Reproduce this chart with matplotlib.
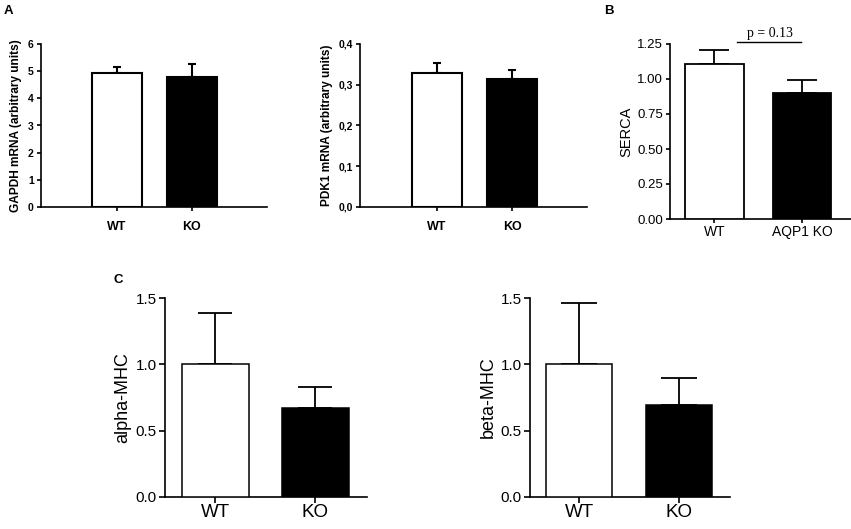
import matplotlib
matplotlib.use("Agg")
import matplotlib.pyplot as plt

W, H = 851, 529
groups = ["WT", "KO"]
fills = ["white", "black"]

gapdh_mean = [4.92, 4.80]
gapdh_err = [0.22, 0.45]
pdk1_mean = [0.330, 0.315]
pdk1_err = [0.024, 0.020]
serca_groups = ["WT", "AQP1 KO"]
serca_mean = [1.11, 0.90]
serca_err = [0.095, 0.095]
alpha_mean = [1.00, 0.67]
alpha_err = [0.39, 0.16]
beta_mean = [1.00, 0.69]
beta_err = [0.46, 0.21]

gapdh_ticks = [0, 1, 2, 3, 4, 5, 6]
pdk1_ticks = [0.0, 0.1, 0.2, 0.3, 0.4]
pdk1_ticklabels = ["0,0", "0,1", "0,2", "0,3", "0,4"]
serca_ticks = [0.0, 0.25, 0.5, 0.75, 1.0, 1.25]
serca_ticklabels = ["0.00", "0.25", "0.50", "0.75", "1.00", "1.25"]
mhc_ticks = [0.0, 0.5, 1.0, 1.5]
mhc_ticklabels = ["0.0", "0.5", "1.0", "1.5"]

fig = plt.figure(figsize=(W / 100, H / 100), dpi=100)
plt.rcParams['font.family'] = ['Liberation Sans', 'DejaVu Sans']


def mkax(l, r, t, b):
    return fig.add_axes([l / W, 1 - b / H, (r - l) / W, (b - t) / H])


def style(ax, xlim, ylim, lw, ticklen, tickfs, bold):
    ax.set_xlim(*xlim)
    ax.set_ylim(*ylim)
    for s in ["top", "right"]:
        ax.spines[s].set_visible(False)
    for s in ["left", "bottom"]:
        ax.spines[s].set_linewidth(lw)
    ax.tick_params(direction="out", length=ticklen, width=lw, labelsize=tickfs, pad=2)
    for lab in ax.get_xticklabels() + ax.get_yticklabels():
        lab.set_fontweight("bold" if bold else "normal")
    ax.patch.set_alpha(0)


def bars(ax, means, errs, width, lw, capw, elw):
    x = list(range(len(means)))
    ax.bar(x, means, width=width, color=fills, edgecolor="black", linewidth=lw, zorder=3)
    ax.errorbar(x, means, yerr=[[0] * len(errs), errs], fmt="none", ecolor="black",
                elinewidth=elw, capsize=capw, capthick=elw, zorder=2)
    return x


# Panel A1 GAPDH
ax1 = mkax(40.7, 267, 44, 207)
x = bars(ax1, gapdh_mean, gapdh_err, 0.667, 1.5, 3, 1.5)
ax1.set_xticks(x)
ax1.set_xticklabels(groups)
ax1.set_yticks(gapdh_ticks)
ax1.set_ylabel("GAPDH mRNA (arbitrary units)", fontsize=8.6, fontweight="bold", labelpad=4)
style(ax1, (-1.017, 2.0), (0, 6), 1.2, 3, 7.5, True)
ax1.tick_params(axis="x", labelsize=9, pad=7)

# Panel A2 PDK1
ax2 = mkax(360, 587, 44, 207)
x = bars(ax2, pdk1_mean, pdk1_err, 0.667, 1.5, 3, 1.5)
ax2.set_xticks(x)
ax2.set_xticklabels(groups)
ax2.set_yticks(pdk1_ticks)
ax2.set_yticklabels(pdk1_ticklabels)
ax2.set_ylabel("PDK1 mRNA (arbitrary units)", fontsize=8.6, fontweight="bold", labelpad=4)
style(ax2, (-1.027, 2.0), (0, 0.4), 1.2, 3, 7.5, True)
ax2.tick_params(axis="x", labelsize=9, pad=7)

# Panel B SERCA
ax3 = mkax(670, 851, 44, 219)
x = bars(ax3, serca_mean, serca_err, 0.67, 1.3, 10.5, 1.3)
ax3.set_xticks(x)
ax3.set_xticklabels(serca_groups)
ax3.set_yticks(serca_ticks)
ax3.set_yticklabels(serca_ticklabels)
ax3.set_ylabel("SERCA", fontsize=10.5, labelpad=3)
style(ax3, (-0.506, 1.56), (0, 1.25), 1.2, 3, 9.5, False)
ax3.tick_params(axis="x", labelsize=10, pad=1)
ax3.plot([0.256, 0.994], [1.264, 1.264], color="black", lw=1.0, clip_on=False)
ax3.text(0.63, 1.278, "p = 0.13", ha="center", va="bottom", fontsize=10,
         family=["Liberation Serif", "DejaVu Serif"])

# Panel C1 alpha-MHC
ax4 = mkax(165, 367, 298, 497)
x = bars(ax4, alpha_mean, alpha_err, 0.67, 1.1, 12.2, 1.3)
ax4.set_xticks(x)
ax4.set_xticklabels(groups)
ax4.set_yticks(mhc_ticks)
ax4.set_yticklabels(mhc_ticklabels)
ax4.set_ylabel("alpha-MHC", fontsize=13, labelpad=3)
style(ax4, (-0.5, 1.515), (0, 1.5), 1.2, 4, 11, False)
ax4.tick_params(axis="x", labelsize=13.5, pad=1)

# Panel C2 beta-MHC
ax5 = mkax(530, 730, 298, 497)
x = bars(ax5, beta_mean, beta_err, 0.66, 1.1, 13.3, 1.3)
ax5.set_xticks(x)
ax5.set_xticklabels(groups)
ax5.set_yticks(mhc_ticks)
ax5.set_yticklabels(mhc_ticklabels)
ax5.set_ylabel("beta-MHC", fontsize=13, labelpad=3)
style(ax5, (-0.49, 1.51), (0, 1.5), 1.2, 4, 11, False)
ax5.tick_params(axis="x", labelsize=13.5, pad=1)

# Panel letters
fig.text(4 / W, 1 - 14 / H, "A", fontsize=9.5, fontweight="bold")
fig.text(604 / W, 1 - 14 / H, "B", fontsize=9.5, fontweight="bold")
fig.text(114 / W, 1 - 283 / H, "C", fontsize=9.5, fontweight="bold")

fig.savefig("out.png", dpi=100)
